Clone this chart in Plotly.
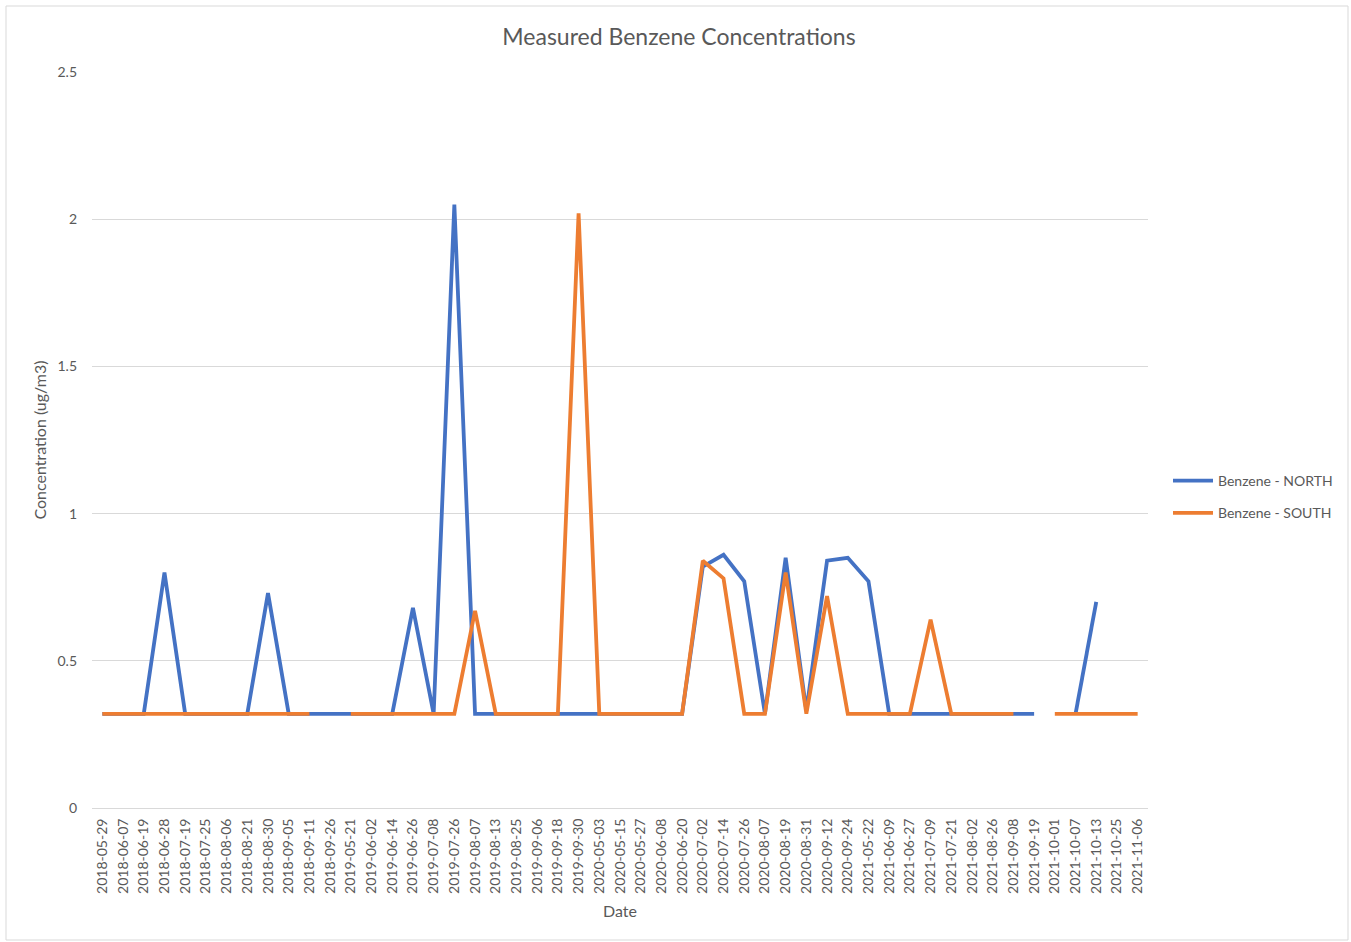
import plotly.graph_objects as go

dates = [
    "2018-05-29", "2018-06-07", "2018-06-19", "2018-06-28", "2018-07-19", "2018-07-25",
    "2018-08-06", "2018-08-21", "2018-08-30", "2018-09-05", "2018-09-11", "2018-09-26",
    "2019-05-21", "2019-06-02", "2019-06-14", "2019-06-26", "2019-07-08", "2019-07-26",
    "2019-08-07", "2019-08-13", "2019-08-25", "2019-09-06", "2019-09-18", "2019-09-30",
    "2020-05-03", "2020-05-15", "2020-05-27", "2020-06-08", "2020-06-20", "2020-07-02",
    "2020-07-14", "2020-07-26", "2020-08-07", "2020-08-19", "2020-08-31", "2020-09-12",
    "2020-09-24", "2021-05-22", "2021-06-09", "2021-06-27", "2021-07-09", "2021-07-21",
    "2021-08-02", "2021-08-26", "2021-09-08", "2021-09-19", "2021-10-01", "2021-10-07",
    "2021-10-13", "2021-10-25", "2021-11-06",
]

north = [
    0.32, 0.32, 0.32, 0.80, 0.32, 0.32, 0.32, 0.32, 0.73, 0.32, 0.32, 0.32,
    0.32, 0.32, 0.32, 0.68, 0.32, 2.05, 0.32, 0.32, 0.32, 0.32, 0.32, 0.32,
    0.32, 0.32, 0.32, 0.32, 0.32, 0.82, 0.86, 0.77, 0.32, 0.85, 0.33, 0.84,
    0.85, 0.77, 0.32, 0.32, 0.32, 0.32, 0.32, 0.32, 0.32, 0.32, None, 0.32,
    0.70, None, None,
]

south = [
    0.32, 0.32, 0.32, 0.32, 0.32, 0.32, 0.32, 0.32, 0.32, 0.32, 0.32, None,
    0.32, 0.32, 0.32, 0.32, 0.32, 0.32, 0.67, 0.32, 0.32, 0.32, 0.32, 2.02,
    0.32, 0.32, 0.32, 0.32, 0.32, 0.84, 0.78, 0.32, 0.32, 0.80, 0.32, 0.72,
    0.32, 0.32, 0.32, 0.32, 0.64, 0.32, 0.32, 0.32, 0.32, None, 0.32, 0.32,
    0.32, 0.32, 0.32,
]

FONT = "Lato, 'Open Sans', sans-serif"
GRAY = "#595959"
GRID = "#d9d9d9"

fig = go.Figure()
fig.add_trace(go.Scatter(
    x=dates, y=north, mode="lines", name="Benzene - NORTH", legendgroup="north",
    line=dict(color="#4472C4", width=3.8), connectgaps=False,
))
fig.add_trace(go.Scatter(
    x=dates, y=south, mode="lines", name="Benzene - SOUTH", legendgroup="south",
    line=dict(color="#ED7D31", width=3.8), connectgaps=False,
))

L, R, T, B = 92, 203, 72, 134
W, H = 1351, 942
pw, ph = W - L - R, H - T - B

fig.update_layout(
    width=W, height=H,
    margin=dict(l=L, r=R, t=T, b=B),
    paper_bgcolor="white", plot_bgcolor="white",
    font=dict(family=FONT, color=GRAY, size=14),
    title=dict(text="Measured Benzene Concentrations", x=679 / W, xref="container",
               y=1 - 37 / H, yref="container", xanchor="center", yanchor="middle",
               font=dict(size=23, color=GRAY, family=FONT)),
    showlegend=True,
    legend=dict(x=(1168 - L) / pw, xanchor="left", y=(808 - 497) / ph, yanchor="middle",
                font=dict(size=14, color=GRAY, family=FONT), bgcolor="rgba(0,0,0,0)",
                traceorder="grouped", tracegroupgap=11, itemwidth=40),
    xaxis=dict(
        type="category", range=[-0.5, len(dates) - 0.5],
        tickangle=-90, tickfont=dict(size=14, color=GRAY),
        showgrid=False, showline=True, linecolor=GRID, linewidth=1,
        ticks="", ticklabelstandoff=4,
        title=dict(text="Date", font=dict(size=16, color=GRAY), standoff=12),
    ),
    yaxis=dict(
        range=[0, 2.5], dtick=0.5, tick0=0,
        showgrid=True, gridcolor=GRID, gridwidth=1,
        zeroline=True, zerolinecolor=GRID, zerolinewidth=1,
        showline=False, ticks="", tickfont=dict(size=14, color=GRAY),
        ticklabelstandoff=14,
        title=dict(text="Concentration (ug/m3)", font=dict(size=16, color=GRAY), standoff=6),
    ),
    shapes=[dict(type="rect", xref="paper", yref="paper",
                 x0=(6 - L) / pw, x1=(1348 - L) / pw,
                 y0=(808 - 940) / ph, y1=(808 - 6) / ph,
                 line=dict(color=GRID, width=1), fillcolor="rgba(0,0,0,0)", layer="below")],
)

fig.write_html("out.html")
